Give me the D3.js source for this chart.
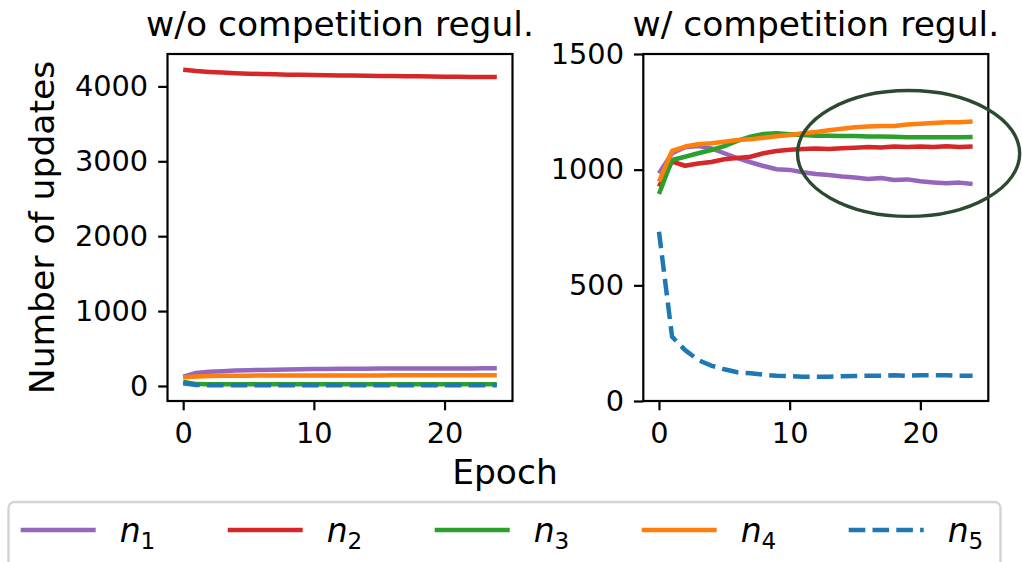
<!DOCTYPE html>
<html>
<head>
<meta charset="utf-8">
<script src="https://cdn.jsdelivr.net/npm/d3@7"></script>
<style>
  body { margin: 0; background: #fff; }
  svg { display: block; font-family: "DejaVu Sans", sans-serif; }
</style>
</head>
<body>
<svg id="chart"></svg>
<script>
// data
const epochs = [0, 1, 2, 3, 4, 5, 6, 7, 8, 9, 10, 11, 12, 13, 14, 15, 16, 17, 18, 19, 20, 21, 22, 23, 24];
const seriesNames = ["n1", "n2", "n3", "n4", "n5"];
const seriesColors = ["#9467bd", "#d62728", "#2ca02c", "#ff7f0e", "#1f77b4"];

// w/o competition regularisation
const n1NoReg = [124, 175, 190, 198, 205, 210, 214, 218, 221, 224, 226, 228, 229, 230, 231, 232, 232, 233, 233, 234, 234, 235, 235, 236, 236];
const n2NoReg = [4222, 4205, 4193, 4184, 4177, 4170, 4165, 4161, 4157, 4154, 4151, 4148, 4146, 4144, 4142, 4140, 4138, 4136, 4134, 4132, 4130, 4128, 4127, 4125, 4124];
const n3NoReg = [58, 25, 22, 22, 22, 22, 22, 22, 22, 22, 22, 22, 22, 22, 22, 22, 22, 22, 22, 22, 22, 22, 22, 22, 22];
const n4NoReg = [116, 128, 133, 135, 137, 138, 139, 139, 140, 140, 140, 141, 141, 141, 141, 141, 142, 142, 142, 142, 142, 142, 142, 142, 142];
const n5NoReg = [35, 12, 10, 10, 10, 10, 10, 10, 10, 10, 10, 10, 10, 10, 10, 10, 10, 10, 10, 10, 10, 10, 10, 10, 10];

// w/ competition regularisation
const n1Reg = [984, 1071, 1097, 1102, 1092, 1071, 1050, 1032, 1016, 1002, 999, 989, 981, 977, 970, 966, 960, 964, 955, 958, 950, 945, 941, 944, 938];
const n2Reg = [927, 1035, 1017, 1027, 1033, 1045, 1050, 1056, 1071, 1081, 1086, 1089, 1091, 1089, 1093, 1095, 1098, 1096, 1100, 1098, 1100, 1098, 1101, 1098, 1100];
const n3Reg = [895, 1042, 1056, 1071, 1085, 1102, 1124, 1143, 1154, 1157, 1153, 1150, 1147, 1147, 1145, 1145, 1143, 1143, 1142, 1140, 1140, 1140, 1140, 1140, 1141];
const n4Reg = [948, 1081, 1100, 1110, 1114, 1121, 1128, 1131, 1138, 1144, 1150, 1157, 1163, 1170, 1177, 1183, 1187, 1189, 1189, 1195, 1198, 1202, 1205, 1205, 1208];
const n5Reg = [732, 278, 220, 177, 153, 137, 124, 120, 114, 109, 107, 105, 105, 105, 107, 108, 109, 109, 111, 109, 111, 111, 111, 109, 109];

const xTicks = [0, 10, 20];
const yTicksNoReg = [0, 1000, 2000, 3000, 4000];
const yTicksReg = [0, 500, 1000, 1500];

// highlighted region (epoch, value, half width in epochs, half height in updates)
const highlight = [19.1, 1070, 8.5, 272];

const width = 1022;
const height = 562;
const tickFont = 28.8;
const labelFont = 34.5;
const legendFont = 33;

const svg = d3.select("#chart")
    .attr("width", width)
    .attr("height", height);

const panels = [
    { title: "w/o competition regul.", left: 167.5, series: [n1NoReg, n2NoReg, n3NoReg, n4NoReg, n5NoReg], yTicks: yTicksNoReg, yDomain: null },
    { title: "w/ competition regul.", left: 643.3, series: [n1Reg, n2Reg, n3Reg, n4Reg, n5Reg], yTicks: yTicksReg, yDomain: [0, 1500] }
];
const axTop = 54;
const axBottom = 401;
const axWidth = 345;

panels.forEach((p, pi) => {
    const x = d3.scaleLinear().domain([-1.2, 25.2]).range([p.left, p.left + axWidth]);
    let yDomain = p.yDomain;
    if (!yDomain) {
        const lo = d3.min(p.series, s => d3.min(s));
        const hi = d3.max(p.series, s => d3.max(s));
        const pad = (hi - lo) * 0.05;
        yDomain = [lo - pad, hi + pad];
    }
    const y = d3.scaleLinear().domain(yDomain).range([axBottom, axTop]);

    svg.append("clipPath").attr("id", "clip" + pi)
        .append("rect")
        .attr("x", p.left).attr("y", axTop)
        .attr("width", axWidth).attr("height", axBottom - axTop);

    const line = d3.line().x((d, i) => x(epochs[i])).y(d => y(d));

    const g = svg.append("g").attr("clip-path", `url(#clip${pi})`);
    p.series.forEach((s, si) => {
        g.append("path")
            .datum(s)
            .attr("d", line)
            .attr("fill", "none")
            .attr("stroke", seriesColors[si])
            .attr("stroke-width", 4.5)
            .attr("stroke-linejoin", "round")
            .attr("stroke-dasharray", si === 4 ? "16.6,7.2" : null);
    });

    // axes
    const xAxis = d3.axisBottom(x).tickValues(xTicks).tickSize(9.3).tickPadding(12).tickFormat(d3.format("d"));
    const yAxis = d3.axisLeft(y).tickValues(p.yTicks).tickSize(9.3).tickPadding(10).tickFormat(d3.format("d"));

    const gx = svg.append("g").attr("transform", `translate(0,${axBottom})`).call(xAxis);
    const gy = svg.append("g").attr("transform", `translate(${p.left},0)`).call(yAxis);
    [gx, gy].forEach(a => {
        a.select(".domain").remove();
        a.selectAll("line").attr("stroke", "#000").attr("stroke-width", 2.2);
        a.selectAll("text").attr("font-size", tickFont).attr("fill", "#000")
            .attr("font-family", "DejaVu Sans");
    });
    gx.selectAll("text").attr("dy", "0.71em");

    svg.append("rect")
        .attr("x", p.left).attr("y", axTop)
        .attr("width", axWidth).attr("height", axBottom - axTop)
        .attr("fill", "none").attr("stroke", "#000").attr("stroke-width", 2.2);

    svg.append("text")
        .attr("x", p.left + axWidth / 2)
        .attr("y", 36)
        .attr("text-anchor", "middle")
        .attr("font-size", labelFont)
        .text(p.title);

    if (pi === 1) {
        const [he, hv, hw, hh] = highlight;
        svg.append("ellipse")
            .attr("cx", x(he))
            .attr("cy", y(hv))
            .attr("rx", x(he + hw) - x(he))
            .attr("ry", y(hv - hh) - y(hv))
            .attr("fill", "none")
            .attr("stroke", "#2b4a30")
            .attr("stroke-width", 3.4);
    }
});

// axis labels
svg.append("text")
    .attr("transform", `translate(54,227.5) rotate(-90)`)
    .attr("text-anchor", "middle")
    .attr("font-size", labelFont)
    .text("Number of updates");

svg.append("text")
    .attr("x", 505)
    .attr("y", 484)
    .attr("text-anchor", "middle")
    .attr("font-size", labelFont)
    .text("Epoch");

// legend
const legend = svg.append("g");
legend.append("rect")
    .attr("x", 8.5).attr("y", 502)
    .attr("width", 992).attr("height", 90)
    .attr("rx", 6)
    .attr("fill", "#fff")
    .attr("stroke", "#d4d4d4")
    .attr("stroke-width", 2.4);

seriesNames.forEach((name, i) => {
    const x0 = 20.7 + 207 * i;
    legend.append("line")
        .attr("x1", x0).attr("x2", x0 + 75)
        .attr("y1", 530).attr("y2", 530)
        .attr("stroke", seriesColors[i])
        .attr("stroke-width", 4.5)
        .attr("stroke-dasharray", i === 4 ? "16.6,7.2" : null);
    const t = legend.append("text")
        .attr("x", x0 + 99)
        .attr("y", 542)
        .attr("font-size", legendFont);
    t.append("tspan").attr("font-style", "italic").text(name[0]);
    t.append("tspan").attr("font-size", legendFont * 0.7).attr("dy", 7).text(name.slice(1));
});
</script>
</body>
</html>
